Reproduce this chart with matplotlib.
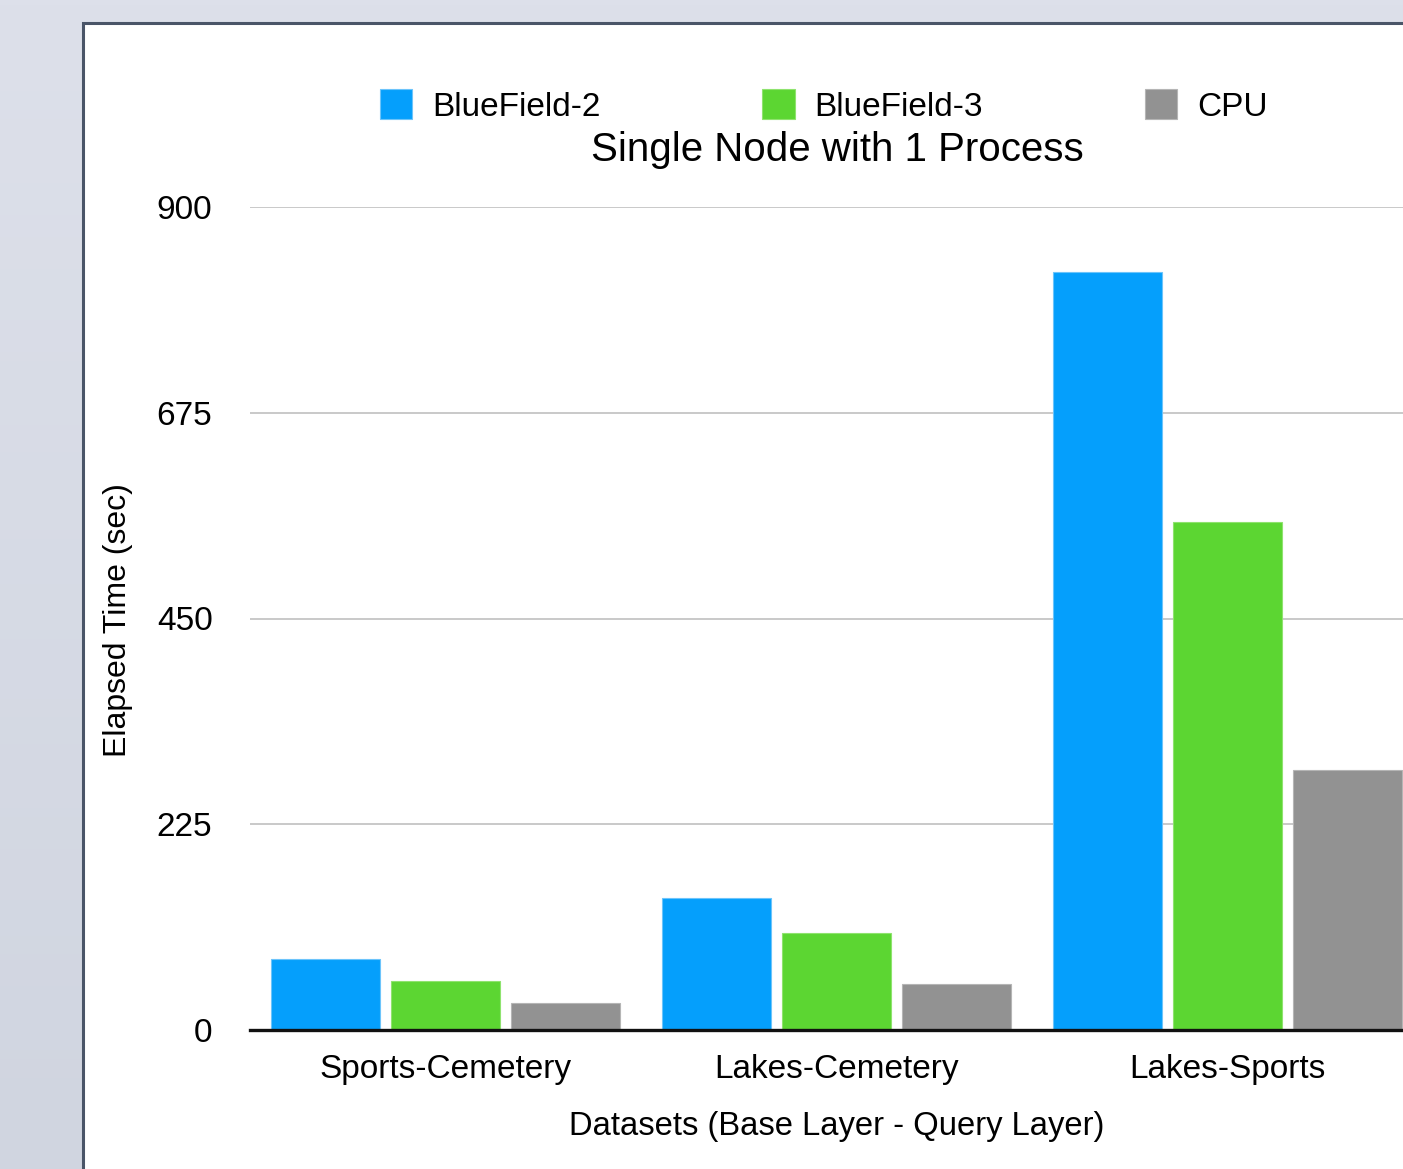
import matplotlib
matplotlib.use("Agg")
import matplotlib.pyplot as plt
import numpy as np
from matplotlib.patches import Rectangle, Patch
from matplotlib.colors import LinearSegmentedColormap

categories = ["Sports-Cemetery", "Lakes-Cemetery", "Lakes-Sports"]
series_names = ["BlueField-2", "BlueField-3", "CPU"]
bluefield2 = [78.0, 144.1, 828.9]
bluefield3 = [53.6, 105.8, 555.7]
cpu = [29.2, 50.7, 284.1]
yticks = [0, 225, 450, 675, 900]

colors = ["#059ffc", "#5cd632", "#929292"]
edge_colors = ["#6cc4fb", "#8fe36e", "#b5b5b5"]

W, H = 1403, 1169
plt.rcParams['font.family'] = ['Liberation Sans', 'DejaVu Sans']
fig = plt.figure(figsize=(W / 100, H / 100), dpi=100)

# background gradient (lighter at top, slightly darker at bottom)
bg = fig.add_axes([0, 0, 1, 1], zorder=-10)
grad = np.linspace(0, 1, 256).reshape(-1, 1)
cmap = LinearSegmentedColormap.from_list("bg", ["#dde0ea", "#d0d5e0"])
bg.imshow(grad, aspect="auto", cmap=cmap, extent=[0, 1, 0, 1], origin="upper")
bg.set_xlim(0, 1); bg.set_ylim(0, 1)
bg.axis("off")

def fx(px):
    return px / W
def fy(py):
    return 1 - py / H

panel = Rectangle((fx(83), fy(1200)), fx(1400), (1200 - 23) / H,
                  transform=fig.transFigure, facecolor="white",
                  edgecolor="#4a5568", linewidth=2.2, zorder=-5)
fig.patches.append(panel)

ax_left, ax_right, ax_top, ax_bottom = 250, 1423, 207, 1030
ax = fig.add_axes([fx(ax_left), fy(ax_bottom), (ax_right - ax_left) / W,
                   (ax_bottom - ax_top) / H])
ax.set_facecolor("none")

x = np.arange(len(categories))
width = 0.279
offsets = [-0.307, 0.0, 0.307]
data = [bluefield2, bluefield3, cpu]
for i, (vals, c, ec) in enumerate(zip(data, colors, edge_colors)):
    ax.bar(x + offsets[i], vals, width, color=c, edgecolor=ec,
           linewidth=0.8, zorder=3, label=series_names[i])

ax.set_xlim(-0.5, 2.5)
ax.set_ylim(0, 900)
ax.set_yticks(yticks)
ax.set_yticklabels([str(v) for v in yticks], fontsize=24)
ax.set_xticks(x)
ax.set_xticklabels(categories, fontsize=24)
ax.tick_params(axis="y", length=0, pad=27)
ax.tick_params(axis="x", length=0, pad=17)
ax.grid(axis="y", color="#c9c9c9", linewidth=1.4, zorder=0)
for s in ["top", "right", "left"]:
    ax.spines[s].set_visible(False)
ax.spines["bottom"].set_color("#111111")
ax.spines["bottom"].set_linewidth(2.4)
ax.spines["bottom"].set_zorder(4)

# labels
fig.text(fx(118), fy(620), "Elapsed Time (sec)", rotation=90, fontsize=23,
         ha="center", va="center")
fig.text(fx(837), fy(1127), "Datasets (Base Layer - Query Layer)", fontsize=23.6,
         ha="center", va="center")
fig.text(fx(837), fy(150), "Single Node with 1 Process", fontsize=29,
         ha="center", va="center")

handles = [Patch(facecolor=c, edgecolor=ec, linewidth=0.8) for c, ec in zip(colors, edge_colors)]
fig.legend(handles, series_names, loc="center left",
           bbox_to_anchor=(fx(380), fy(106)), ncol=3, frameon=False,
           fontsize=24, handlelength=0.97, handleheight=0.97,
           handletextpad=0.6, columnspacing=4.85, borderpad=0,
           borderaxespad=0)

fig.savefig("out.png", dpi=100)
